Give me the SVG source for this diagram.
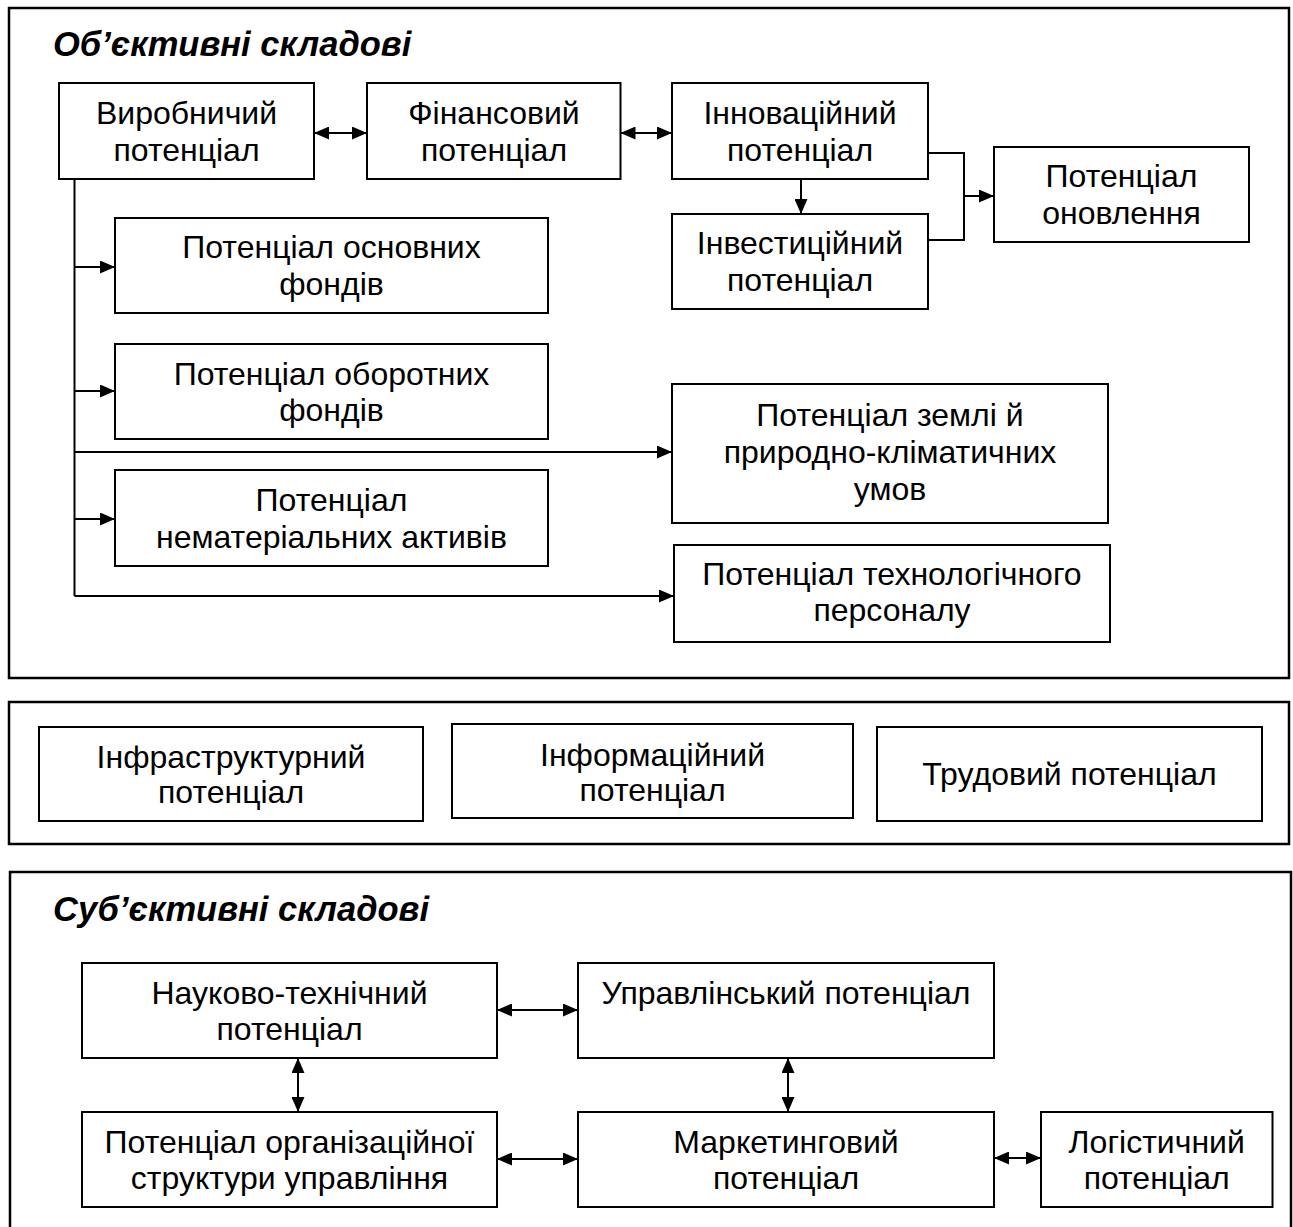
<svg xmlns="http://www.w3.org/2000/svg" width="1293" height="1227" viewBox="0 0 1293 1227">
<style>
.frame{fill:none;stroke:#000;stroke-width:2.5}
.box{fill:#fff;stroke:#000;stroke-width:2}
.t{font-family:"Liberation Sans",Arial,sans-serif;font-size:32px;fill:#000;text-anchor:middle}
.h{font-family:"Liberation Sans",Arial,sans-serif;font-size:34.5px;font-weight:bold;font-style:italic;fill:#000}
.c{fill:none;stroke:#000;stroke-width:2}
</style>
<defs>
<marker id="ah" markerUnits="userSpaceOnUse" markerWidth="15" markerHeight="13" refX="15" refY="6.5" orient="auto-start-reverse">
<path d="M0,0 L15,6.5 L0,13 z" fill="#000"/>
</marker>
</defs>
<rect x="0" y="0" width="1293" height="1227" fill="#fff"/>
<g id="frames">
<rect class="frame" x="9" y="8" width="1280" height="670"/>
<rect class="frame" x="9" y="702" width="1280" height="142"/>
<rect class="frame" x="10" y="872" width="1281" height="370"/>
</g>
<text class="h" x="53" y="56">Об’єктивні складові</text>
<text class="h" x="53" y="921">Суб’єктивні складові</text>
<g id="connectors">
<line class="c" x1="314" y1="133" x2="367" y2="133" marker-start="url(#ah)" marker-end="url(#ah)"/>
<line class="c" x1="620.5" y1="133" x2="672" y2="133" marker-start="url(#ah)" marker-end="url(#ah)"/>
<line class="c" x1="801" y1="179" x2="801" y2="214" marker-end="url(#ah)"/>
<path class="c" d="M928,153 H964 V240 H928"/>
<line class="c" x1="964" y1="196" x2="994" y2="196" marker-end="url(#ah)"/>
<path class="c" d="M74.5,179 V596"/>
<line class="c" x1="74.5" y1="267" x2="115" y2="267" marker-end="url(#ah)"/>
<line class="c" x1="74.5" y1="391" x2="115" y2="391" marker-end="url(#ah)"/>
<line class="c" x1="74.5" y1="452" x2="672" y2="452" marker-end="url(#ah)"/>
<line class="c" x1="74.5" y1="519" x2="115" y2="519" marker-end="url(#ah)"/>
<line class="c" x1="74.5" y1="596" x2="674" y2="596" marker-end="url(#ah)"/>
<line class="c" x1="497" y1="1010" x2="578" y2="1010" marker-start="url(#ah)" marker-end="url(#ah)"/>
<line class="c" x1="497" y1="1159" x2="578" y2="1159" marker-start="url(#ah)" marker-end="url(#ah)"/>
<line class="c" x1="298" y1="1058" x2="298" y2="1112" marker-start="url(#ah)" marker-end="url(#ah)"/>
<line class="c" x1="788" y1="1058" x2="788" y2="1112" marker-start="url(#ah)" marker-end="url(#ah)"/>
<line class="c" x1="994" y1="1158" x2="1041" y2="1158" marker-start="url(#ah)" marker-end="url(#ah)"/>
</g>
<g id="n-vyrob"><rect class="box" x="59" y="83" width="255" height="96"/><text class="t" x="186.5" y="124">Виробничий</text><text class="t" x="186.5" y="161">потенціал</text></g>
<g id="n-fin"><rect class="box" x="367" y="83" width="253.5" height="96"/><text class="t" x="494" y="124">Фінансовий</text><text class="t" x="494" y="161">потенціал</text></g>
<g id="n-innov"><rect class="box" x="672" y="83" width="256" height="96"/><text class="t" x="800" y="124">Інноваційний</text><text class="t" x="800" y="161">потенціал</text></g>
<g id="n-invest"><rect class="box" x="672" y="214" width="256" height="95"/><text class="t" x="800" y="254">Інвестиційний</text><text class="t" x="800" y="291">потенціал</text></g>
<g id="n-onov"><rect class="box" x="994" y="147" width="255" height="95"/><text class="t" x="1121.5" y="187">Потенціал</text><text class="t" x="1121.5" y="224">оновлення</text></g>
<g id="n-osn"><rect class="box" x="115" y="218" width="433" height="95"/><text class="t" x="331.5" y="258">Потенціал основних</text><text class="t" x="331.5" y="295">фондів</text></g>
<g id="n-obor"><rect class="box" x="115" y="344" width="433" height="95"/><text class="t" x="331.5" y="385">Потенціал оборотних</text><text class="t" x="331.5" y="421">фондів</text></g>
<g id="n-nemat"><rect class="box" x="115" y="470" width="433" height="96"/><text class="t" x="331.5" y="511">Потенціал</text><text class="t" x="331.5" y="548">нематеріальних активів</text></g>
<g id="n-zemlya"><rect class="box" x="672" y="384" width="436" height="139"/><text class="t" x="890" y="426">Потенціал землі й</text><text class="t" x="890" y="463">природно-кліматичних</text><text class="t" x="890" y="500">умов</text></g>
<g id="n-tech"><rect class="box" x="674" y="545" width="436" height="97"/><text class="t" x="892" y="585">Потенціал технологічного</text><text class="t" x="892" y="621">персоналу</text></g>
<g id="n-infra"><rect class="box" x="39" y="727" width="384" height="94"/><text class="t" x="231" y="768">Інфраструктурний</text><text class="t" x="231" y="803">потенціал</text></g>
<g id="n-inform"><rect class="box" x="452" y="724" width="401" height="94"/><text class="t" x="652.5" y="766">Інформаційний</text><text class="t" x="652.5" y="801">потенціал</text></g>
<g id="n-trud"><rect class="box" x="877" y="727" width="385" height="94"/><text class="t" x="1069.5" y="785">Трудовий потенціал</text></g>
<g id="n-nauk"><rect class="box" x="82" y="963" width="415" height="95"/><text class="t" x="289.5" y="1004">Науково-технічний</text><text class="t" x="289.5" y="1040">потенціал</text></g>
<g id="n-upr"><rect class="box" x="578" y="963" width="416" height="95"/><text class="t" x="786" y="1004">Управлінський потенціал</text></g>
<g id="n-org"><rect class="box" x="82" y="1112" width="415" height="95"/><text class="t" x="289.5" y="1153">Потенціал організаційної</text><text class="t" x="289.5" y="1189">структури управління</text></g>
<g id="n-mark"><rect class="box" x="578" y="1112" width="416" height="95"/><text class="t" x="786" y="1153">Маркетинговий</text><text class="t" x="786" y="1189">потенціал</text></g>
<g id="n-log"><rect class="box" x="1041" y="1112" width="231.5" height="95"/><text class="t" x="1156.7" y="1153">Логістичний</text><text class="t" x="1156.7" y="1189">потенціал</text></g>
</svg>
